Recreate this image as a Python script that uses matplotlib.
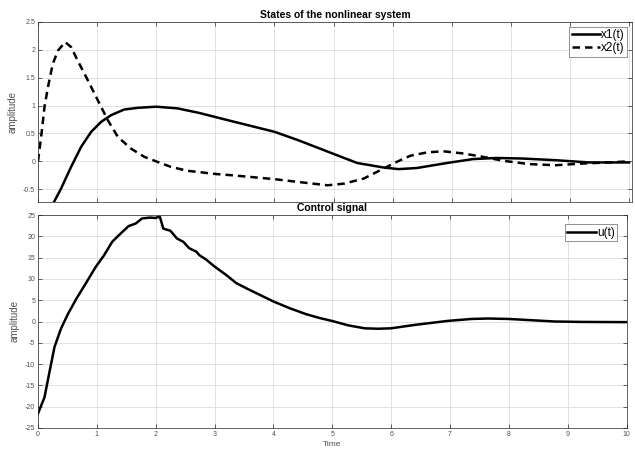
import matplotlib
matplotlib.use("Agg")
import matplotlib.pyplot as plt
from matplotlib.ticker import FuncFormatter

plt.rcParams['font.family'] = ['Liberation Sans', 'DejaVu Sans']
plt.rcParams['axes.unicode_minus'] = False

# ---- data ----
t_x1 = [0, 0.27, 0.39, 0.56, 0.73, 0.90, 1.07, 1.24, 1.46, 1.69, 2.0, 2.36, 2.72,
        3.28, 4.0, 4.40, 4.96, 5.40, 5.84, 6.1, 6.41, 6.92, 7.36, 7.75,
        8.2, 8.76, 9.32, 10]
x1 = [-1.25, -0.73, -0.49, -0.10, 0.26, 0.53, 0.71, 0.83, 0.93, 0.96, 0.98, 0.95,
      0.87, 0.72, 0.53, 0.38, 0.15, -0.03, -0.11, -0.14, -0.12, -0.03, 0.04,
      0.06, 0.05, 0.02, -0.02, -0.02]

t_x2 = [0, 0.06, 0.11, 0.17, 0.25, 0.34, 0.46, 0.56, 0.67, 0.84, 1.01, 1.18, 1.35,
        1.57, 1.80, 2.02, 2.25, 2.53, 3.03, 3.28, 4.0, 4.40, 4.90, 5.18, 5.51,
        5.79, 6.07, 6.30, 6.58, 6.86, 7.2, 7.53, 7.87, 8.31, 8.76, 9.21, 9.65, 10]
x2 = [0.0, 0.5, 0.98, 1.34, 1.75, 1.99, 2.14, 2.05, 1.81, 1.46, 1.1, 0.74, 0.44,
      0.23, 0.08, -0.01, -0.10, -0.17, -0.23, -0.25, -0.32, -0.37, -0.43, -0.40,
      -0.31, -0.16, -0.01, 0.10, 0.16, 0.18, 0.14, 0.08, 0.01, -0.05, -0.07,
      -0.04, -0.02, 0.0]

t_u = [0.0, 0.11, 0.20, 0.28, 0.39, 0.51, 0.65, 0.81, 0.98, 1.12, 1.26, 1.40, 1.54,
       1.66, 1.77, 1.91, 1.99, 2.07, 2.13, 2.25, 2.36, 2.47, 2.57, 2.69, 2.74,
       2.86, 3.0, 3.2, 3.37, 3.54, 3.77, 4.0, 4.28, 4.56, 4.79, 4.99, 5.27, 5.55,
       5.78, 6.0, 6.4, 6.97, 7.37, 7.65, 7.99, 8.39, 8.78, 9.24, 10.0]
u = [-21.6, -17.8, -11.5, -6.0, -1.7, 1.8, 5.3, 8.9, 12.8, 15.5, 18.7, 20.6, 22.4,
     23.0, 24.2, 24.4, 24.3, 24.6, 21.8, 21.3, 19.5, 18.7, 17.2, 16.4, 15.6,
     14.5, 12.9, 10.9, 9.0, 7.8, 6.25, 4.7, 3.1, 1.7, 0.8, 0.15, -0.9, -1.6,
     -1.7, -1.6, -0.8, 0.15, 0.6, 0.7, 0.6, 0.3, 0.0, -0.1, -0.15]

top_yticks = [-0.5, 0, 0.5, 1, 1.5, 2, 2.5]
bot_yticks = [-25, -20, -15, -10, -5, 0, 5, 10, 15, 20, 25]
xticks = list(range(0, 11))

# ---- figure ----
fig = plt.figure(figsize=(6.35, 4.5), dpi=100)
ax1 = fig.add_axes([38/635, 1-202/450, 594/635, 180/450])
ax2 = fig.add_axes([38/635, 1-428/450, 588.5/635, 213/450])

fmt = FuncFormatter(lambda v, p: f"{v:g}")
tickgray = '#505050'

def style(ax):
    ax.grid(True, color='#dcdcdc', linewidth=0.6)
    ax.set_axisbelow(True)
    ax.tick_params(direction='in', top=True, right=True, length=3, width=0.5,
                   labelsize=5, colors='#262626', labelcolor=tickgray, pad=2)
    for s in ax.spines.values():
        s.set_color('#262626')
        s.set_linewidth(0.5)
    ax.yaxis.set_major_formatter(fmt)
    ax.xaxis.set_major_formatter(fmt)

# top plot
ax1.plot(t_x1, x1, color='black', lw=1.8, label='x1(t)', solid_joinstyle='round')
ax1.plot(t_x2, x2, color='black', lw=1.8, dashes=(3, 2), label='x2(t)')
ax1.set_xlim(0, 10.05)
ax1.set_ylim(-0.73, 2.5)
ax1.set_xticks(xticks)
ax1.set_yticks(top_yticks)
style(ax1)
ax1.tick_params(labelbottom=False)
ax1.set_ylabel('amplitude', fontsize=7, color=tickgray, labelpad=4)
ax1.set_title('States of the nonlinear system', fontsize=7.5, fontweight='bold', pad=3)
leg1 = ax1.legend(loc='upper right', fontsize=8.5, handlelength=2.4, handletextpad=0.1,
                  borderpad=0.2, labelspacing=0.1, fancybox=False, framealpha=1,
                  borderaxespad=0.4)
leg1.get_frame().set_edgecolor('#808080')
leg1.get_frame().set_linewidth(0.6)

# bottom plot
ax2.plot(t_u, u, color='black', lw=1.8, label='u(t)', solid_joinstyle='round')
ax2.set_xlim(0, 10)
ax2.set_ylim(-25, 25)
ax2.set_xticks(xticks)
ax2.set_yticks(bot_yticks)
style(ax2)
ax2.set_ylabel('amplitude', fontsize=7, color=tickgray, labelpad=4)
ax2.set_xlabel('Time', fontsize=6, color=tickgray, labelpad=2)
ax2.set_title('Control signal', fontsize=7.5, fontweight='bold', pad=3)
leg2 = ax2.legend(loc='upper right', fontsize=8.5, handlelength=2.4, handletextpad=0.1,
                  borderpad=0.2, fancybox=False, framealpha=1, borderaxespad=0.8)
leg2.get_frame().set_edgecolor('#808080')
leg2.get_frame().set_linewidth(0.6)

fig.savefig('out.png', dpi=100)
